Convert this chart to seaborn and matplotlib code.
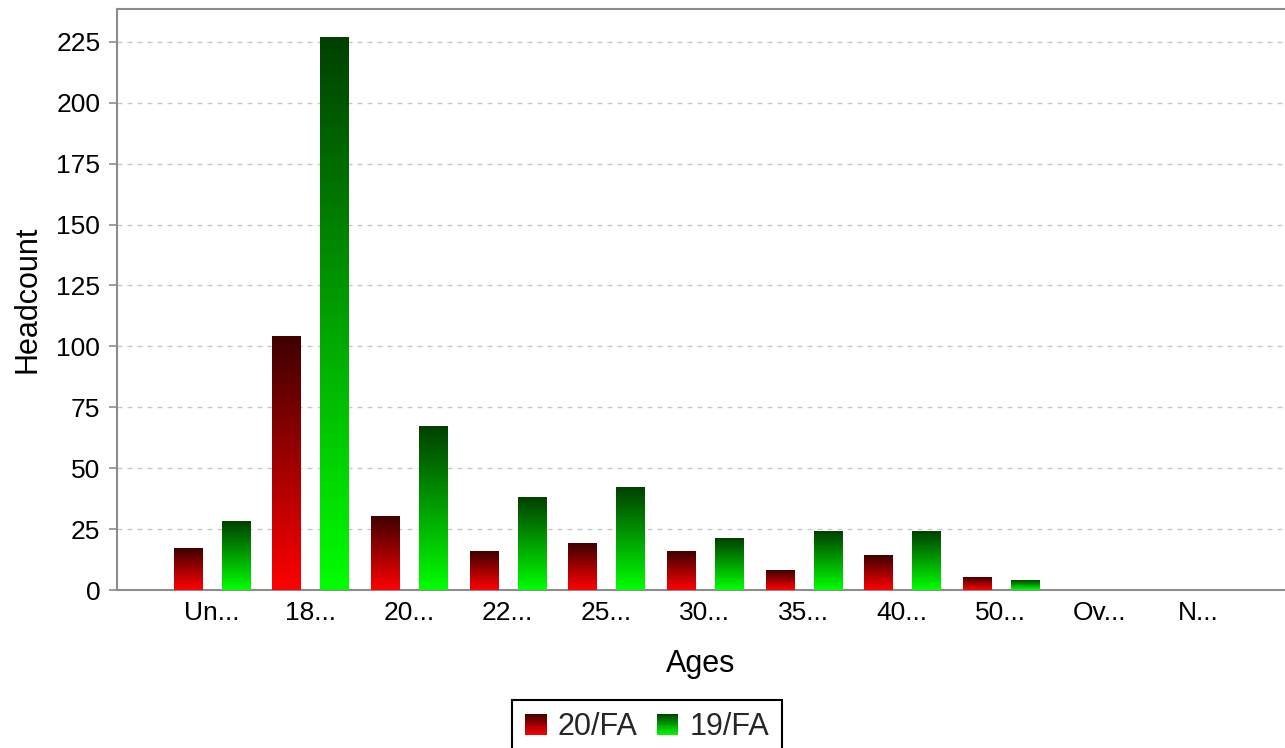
import numpy as np
import pandas as pd
import matplotlib
matplotlib.use('Agg')
import matplotlib.pyplot as plt
from matplotlib.colors import LinearSegmentedColormap
from matplotlib.legend_handler import HandlerPatch
from matplotlib.patches import Patch, Rectangle
import seaborn as sns

# data
ages = ['Un...', '18...', '20...', '22...', '25...', '30...', '35...', '40...', '50...', 'Ov...', 'N...']
fa20 = [17, 104, 30, 16, 19, 16, 8, 14, 5, 0, 0]
fa19 = [28, 227, 67, 38, 42, 21, 24, 24, 4, 0, 0]
terms = ['20/FA', '19/FA']
yticks = [0, 25, 50, 75, 100, 125, 150, 175, 200, 225]

# (top colour, bottom colour) of each gradient
grad = {'20/FA': ('#3f0000', '#ff0000'),
        '19/FA': ('#004000', '#00ff00')}

df = pd.DataFrame({
    'Ages': ages * 2,
    'Headcount': fa20 + fa19,
    'Term': [terms[0]] * len(ages) + [terms[1]] * len(ages),
})

sns.set_style('white')
plt.rcParams['font.family'] = ['Liberation Sans', 'DejaVu Sans']


def make_cmap(term):
    top, bot = grad[term]
    return LinearSegmentedColormap.from_list(term, [bot, top])


class GradHandler(HandlerPatch):
    def create_artists(self, legend, orig_handle, xdescent, ydescent,
                       width, height, fontsize, trans):
        cmap = make_cmap(orig_handle.get_label())
        s = min(width, height)
        x0 = -xdescent + (width - s) / 2
        y0 = -ydescent + (height - s) / 2
        n = 24
        arts = []
        for i in range(n):
            r = Rectangle((x0, y0 + i * s / n), s, s / n + 0.05,
                          facecolor=cmap(i / (n - 1)), edgecolor='none',
                          transform=trans)
            arts.append(r)
        return arts


fig = plt.figure(figsize=(12.85, 7.48), dpi=100)
ax = fig.add_axes([117 / 1285, 1 - 590 / 748, 1 - 117 / 1285, (590 - 9) / 748])

sns.barplot(data=df, x='Ages', y='Headcount', hue='Term', hue_order=terms,
            palette=[grad[t][1] for t in terms], width=0.973, gap=0.416,
            legend=False, ax=ax, zorder=3)

# replace flat bars with vertical gradients
for cont, term in zip(ax.containers, terms):
    cmap = make_cmap(term)
    for bar in cont:
        bar.set_visible(False)
        h = bar.get_height()
        if h <= 0:
            continue
        x0 = bar.get_x()
        w = bar.get_width()
        ax.imshow(np.linspace(1, 0, 256).reshape(-1, 1), cmap=cmap,
                  extent=(x0, x0 + w, 0, h), aspect='auto', origin='upper',
                  interpolation='bicubic', zorder=3)

ax.set_xlim(-0.96, 10.88)
ax.set_ylim(0, 238.5)
ax.set_yticks(yticks)
ax.set_axisbelow(True)
ax.grid(axis='y', color='#c8c8c8', linestyle=(0, (3.6, 3.6)), linewidth=1)
ax.grid(axis='x', visible=False)

for side in ['left', 'top', 'bottom']:
    ax.spines[side].set_visible(True)
    ax.spines[side].set_color('#8c8c8c')
    ax.spines[side].set_linewidth(1.5)
ax.spines['right'].set_visible(False)

ax.tick_params(axis='y', left=True, length=6, width=1.2, color='#8c8c8c',
               pad=6, labelsize=19, labelcolor='black')
ax.tick_params(axis='x', bottom=False, length=0, pad=8, labelsize=19,
               labelcolor='black')
for lab in ax.get_xticklabels():
    lab.set_x(lab.get_position()[0])

ax.set_xlabel('Ages', fontsize=22, labelpad=17, color='black')
ax.set_ylabel('Headcount', fontsize=22, labelpad=10, color='black')

leg = fig.legend(handles=[Patch(label=t) for t in terms],
                 handler_map={Patch: GradHandler()},
                 loc='upper center', bbox_to_anchor=(647 / 1285, 1 - 700 / 748),
                 ncol=2, fontsize=22, frameon=True, fancybox=False,
                 framealpha=1, edgecolor='black', borderpad=0.4,
                 handlelength=0.72, handleheight=0.72, handletextpad=0.36,
                 columnspacing=0.62, borderaxespad=0)
leg.get_frame().set_linewidth(1.5)

fig.savefig('out.png', dpi=100)
